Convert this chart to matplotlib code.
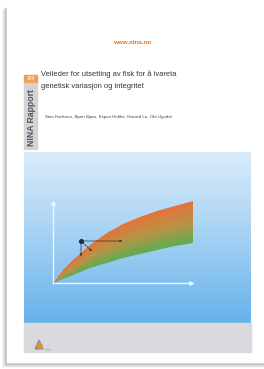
import numpy as np
import matplotlib
matplotlib.use("Agg")
import matplotlib.pyplot as plt
from matplotlib.patches import Rectangle, Polygon, Circle

plt.rcParams["font.family"] = ["Liberation Sans", "DejaVu Sans"]

# tekst på omslaget
url_text = "www.nina.no"
report_no = "269"
series_text = "NINA Rapport"
title_lines = ["Veileder for utsetting av fisk for å ivareta",
               "genetisk variasjon og integritet"]
authors = "Sten Karlsson, Bjørn Bjøru, Espen Holthe, Håvard Lo, Ola Ugedal"

# kurvene i figuren (x, y i bildepiksler)
curve_x = [54, 63, 73, 90, 107, 123, 140, 157, 175, 193]
upper_y = [282, 270, 260, 245, 233, 224, 217, 211, 206, 201]
lower_y = [283, 279, 275, 268, 263, 258, 254, 250, 246, 243]

# punkt og piler
dot = (81, 241)
arrow_ends = [(125, 241), (81, 259), (94, 253)]

W, H = 264, 369
fig = plt.figure(figsize=(W / 100, H / 100), dpi=100)
ax = fig.add_axes([0, 0, 1, 1])
ax.set_xlim(0, W)
ax.set_ylim(H, 0)
ax.axis("off")
fig.patch.set_facecolor("white")

# side med skygge
ax.add_patch(Rectangle((3, 9), 262, 357, color="#e2e2e2", zorder=0))
ax.add_patch(Rectangle((5, 8), 262, 356, color="#c4c4c4", zorder=0))
ax.add_patch(Rectangle((7, 7), 262, 355, color="white", zorder=1))

# blått panel med gradient
grad = np.linspace(0, 1, 200)[:, None]
top_c = np.array([0.85, 0.92, 0.98])
bot_c = np.array([0.40, 0.70, 0.92])
img = top_c + (bot_c - top_c) * grad[..., None] ** 1.1
img = np.repeat(img, 2, axis=1)
ax.imshow(img, extent=(24, 251, 323, 152), aspect="auto", zorder=2)
ax.add_patch(Rectangle((24, 323), 227, 29, color="#d9d9de", zorder=2))

# sidebånd
ax.add_patch(Rectangle((24, 75), 13, 8, color="#f0a050", zorder=3))
ax.add_patch(Rectangle((24, 83), 13, 66, color="#d3d3d6", zorder=3))
ax.text(30.5, 79, report_no, color="#fbe2c0", fontsize=3.5, fontweight="bold",
        ha="center", va="center", zorder=4)
ax.text(31, 118, series_text, color="#505560", fontsize=6.2, fontweight="bold",
        rotation=90, ha="center", va="center", zorder=4)

ax.text(132, 42, url_text, color="#e07a20", fontsize=4.5, fontweight="bold",
        ha="center", va="center", zorder=4)
ax.text(41, 74, title_lines[0], color="#333333", fontsize=5.4,
        ha="left", va="center", zorder=4)
ax.text(41, 86.5, title_lines[1], color="#333333", fontsize=5.4,
        ha="left", va="center", zorder=4)
ax.text(45, 117, authors, color="#444444", fontsize=3.2,
        ha="left", va="center", zorder=4)

# akser
ax.plot([53, 53], [283, 203], color="#eef6fc", lw=1.0, zorder=3)
ax.plot([53, 191], [283, 283], color="#eef6fc", lw=1.0, zorder=3)
ax.plot([53], [203], marker="^", ms=2.5, color="#eef6fc", zorder=3)
ax.plot([191], [283], marker=">", ms=2.5, color="#eef6fc", zorder=3)

# fargebånd mellom kurvene
xs = np.arange(54, 194, 0.5)
ys = np.arange(195, 290, 0.5)
XX, YY = np.meshgrid(xs, ys)
up = np.interp(XX, curve_x, upper_y)
lo = np.interp(XX, curve_x, lower_y)
frac = np.clip((YY - up) / np.maximum(lo - up, 0.5), 0, 1)
orange = np.array([0.90, 0.45, 0.22])
tan = np.array([0.72, 0.58, 0.28])
green = np.array([0.36, 0.68, 0.32])
f = frac[..., None]
band = np.where(f < 0.5, orange + (tan - orange) * (f / 0.5),
                tan + (green - tan) * ((f - 0.5) / 0.5))
im = ax.imshow(band, extent=(54, 194, 290, 195), aspect="auto", zorder=3)
poly = Polygon(list(zip(curve_x, upper_y)) + list(zip(curve_x[::-1], lower_y[::-1])),
               closed=True, transform=ax.transData, facecolor="none", edgecolor="none")
ax.add_patch(poly)
im.set_clip_path(poly)

# punkt og piler
for ex, ey in arrow_ends:
    ax.annotate("", xy=(ex, ey), xytext=dot,
                arrowprops=dict(arrowstyle="-|>", color="#333333", lw=0.5,
                                mutation_scale=3), zorder=5)
ax.plot([dot[0]], [dot[1]], "o", ms=2.6, color="#1a2a3a", zorder=6)

# logo nederst
ax.add_patch(Circle((40, 346), 2.2, color="#e8902a", zorder=4))
ax.add_patch(Polygon([(35, 349), (39, 340), (43, 349)], color="#8a8a8a",
                     alpha=0.8, zorder=3))
ax.text(45, 350, "NINA", color="#b0b0b0", fontsize=2.2, va="center", zorder=4)

fig.savefig("out.png", dpi=100, facecolor="white")
